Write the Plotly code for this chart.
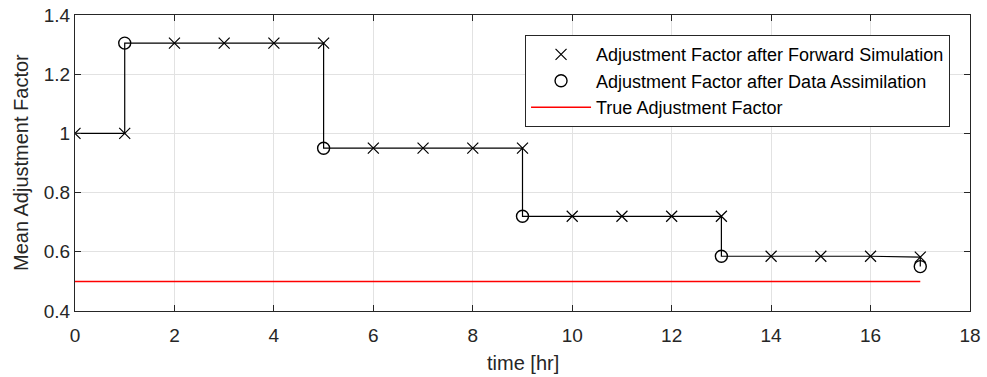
import plotly.graph_objects as go

# Data
time_fwd = [0, 1, 2, 3, 4, 5, 6, 7, 8, 9, 10, 11, 12, 13, 14, 15, 16, 17]
af_fwd = [1.0, 1.0, 1.305, 1.305, 1.305, 1.305, 0.95, 0.95, 0.95, 0.95,
          0.72, 0.72, 0.72, 0.72, 0.585, 0.585, 0.585, 0.582]
time_da = [1, 5, 9, 13, 17]
af_da = [1.305, 0.95, 0.72, 0.585, 0.55]
time_true = [0, 17]
af_true = [0.5, 0.5]
x_title = "time [hr]"
y_title = "Mean Adjustment Factor"

# Build the connecting step line: forward value then assimilated value at each time
da_map = dict(zip(time_da, af_da))
line_x, line_y = [], []
for t, v in zip(time_fwd, af_fwd):
    line_x.append(t)
    line_y.append(v)
    if t in da_map:
        line_x.append(t)
        line_y.append(da_map[t])

FONT = "Liberation Sans, Arial"
fig = go.Figure()
fig.add_trace(go.Scatter(x=line_x, y=line_y, mode="lines",
                         line=dict(color="black", width=1.2),
                         showlegend=False, hoverinfo="skip"))
fig.add_trace(go.Scatter(x=time_fwd, y=af_fwd, mode="markers",
                         name="Adjustment Factor after Forward Simulation",
                         marker=dict(symbol="x-thin", size=11,
                                     line=dict(color="black", width=1.2))))
fig.add_trace(go.Scatter(x=time_da, y=af_da, mode="markers",
                         name="Adjustment Factor after Data Assimilation",
                         marker=dict(symbol="circle-open", size=12, color="black",
                                     line=dict(color="black", width=1.4))))
fig.add_trace(go.Scatter(x=time_true, y=af_true, mode="lines",
                         name="True Adjustment Factor",
                         line=dict(color="#ff0000", width=1.5)))

axis_common = dict(
    showgrid=True, gridcolor="#e2e2e2", gridwidth=1,
    showline=True, linecolor="#262626", linewidth=1.2, mirror="ticks",
    ticks="inside", ticklen=6, tickcolor="#262626", tickwidth=1,
    zeroline=False, automargin=False,
    tickfont=dict(family=FONT, size=19, color="#262626"),
)

fig.update_layout(
    width=987, height=377,
    margin=dict(l=75, r=17, t=15, b=66),
    plot_bgcolor="white", paper_bgcolor="white",
    xaxis=dict(range=[0, 18], dtick=2, ticklabelstandoff=7, **axis_common),
    yaxis=dict(range=[0.4, 1.4], dtick=0.2, tickformat="~g", **axis_common),
    legend=dict(x=0.9777, y=0.932, xanchor="right", yanchor="top",
                bgcolor="white", bordercolor="#262626", borderwidth=1,
                font=dict(family=FONT, size=18, color="black"),
                tracegroupgap=0, itemwidth=60),
    showlegend=True,
)

fig.add_annotation(text=x_title, xref="paper", yref="paper", x=0.5, y=-0.176,
                   xanchor="center", yanchor="middle", showarrow=False,
                   font=dict(family=FONT, size=20, color="#262626"))
fig.add_annotation(text=y_title, xref="paper", yref="paper", x=-(75 - 21) / 895, y=0.5,
                   xanchor="center", yanchor="middle", showarrow=False, textangle=-90,
                   font=dict(family=FONT, size=20, color="#262626"))

fig.write_html("out.html")
